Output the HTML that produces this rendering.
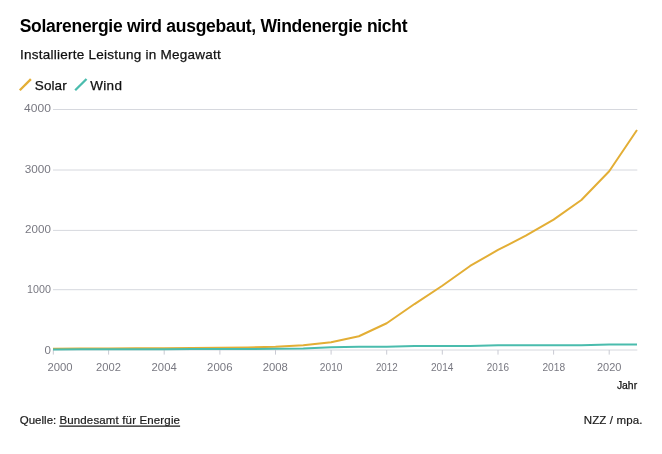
<!DOCTYPE html>
<html lang="de">
<head>
<meta charset="utf-8">
<title>Solarenergie wird ausgebaut, Windenergie nicht</title>
<style>
html,body{margin:0;padding:0;background:#fff;}
body{width:662px;height:454px;overflow:hidden;font-family:"Liberation Sans",sans-serif;}
svg{display:block;}
text{font-family:"Liberation Sans",sans-serif;}
.title{font-size:17.5px;font-weight:bold;fill:#000;letter-spacing:-0.28px;}
.sub{font-size:13.5px;fill:#111;letter-spacing:0.25px;stroke:#111;stroke-width:0.25px;}
.leg{font-size:13.5px;fill:#111;stroke:#111;stroke-width:0.25px;}
.ax{font-size:11.5px;fill:#787881;}
.axx{font-size:10.8px;fill:#787881;}
.jahr{font-size:11px;fill:#111;stroke:#111;stroke-width:0.25px;}
.foot{font-size:11.5px;fill:#1a1a1a;stroke:#1a1a1a;stroke-width:0.2px;}
</style>
</head>
<body>
<svg width="662" height="454" viewBox="0 0 662 454">
<rect width="662" height="454" fill="#fff"/>
<text class="title" x="19.7" y="32">Solarenergie wird ausgebaut, Windenergie nicht</text>
<text class="sub" x="20" y="59">Installierte Leistung in Megawatt</text>
<line x1="19.8" y1="90.3" x2="30.9" y2="79.1" stroke="#e3ae35" stroke-width="2.3"/>
<text class="leg" x="34.8" y="90" textLength="31.9">Solar</text>
<line x1="75.2" y1="90.3" x2="86.5" y2="79.0" stroke="#4abcad" stroke-width="2.3"/>
<text class="leg" x="90.3" y="90" textLength="31.6">Wind</text>
<g stroke="#d6d8de" stroke-width="1" fill="none">
<line x1="53" y1="109.5" x2="637.3" y2="109.5"/>
<line x1="53" y1="170" x2="637.3" y2="170"/>
<line x1="53" y1="230.4" x2="637.3" y2="230.4"/>
<line x1="53" y1="289.7" x2="637.3" y2="289.7"/>
<line x1="53" y1="350" x2="637.3" y2="350"/>
</g>
<g stroke="#c9cad3" stroke-width="1" fill="none">
<line x1="53.3" y1="350" x2="53.3" y2="354.6"/>
<line x1="108.6" y1="350" x2="108.6" y2="354.6"/>
<line x1="164.2" y1="350" x2="164.2" y2="354.6"/>
<line x1="219.9" y1="350" x2="219.9" y2="354.6"/>
<line x1="275.5" y1="350" x2="275.5" y2="354.6"/>
<line x1="331.1" y1="350" x2="331.1" y2="354.6"/>
<line x1="386.7" y1="350" x2="386.7" y2="354.6"/>
<line x1="442.3" y1="350" x2="442.3" y2="354.6"/>
<line x1="498.0" y1="350" x2="498.0" y2="354.6"/>
<line x1="553.6" y1="350" x2="553.6" y2="354.6"/>
<line x1="609.2" y1="350" x2="609.2" y2="354.6"/>
</g>
<g class="ax">
<text x="24.1" y="112" textLength="26.8" lengthAdjust="spacingAndGlyphs">4000</text>
<text x="24.8" y="173" textLength="26.1" lengthAdjust="spacingAndGlyphs">3000</text>
<text x="25.1" y="233" textLength="25.8" lengthAdjust="spacingAndGlyphs">2000</text>
<text x="27.1" y="293" textLength="23.8" lengthAdjust="spacingAndGlyphs">1000</text>
<text x="50.9" y="354" text-anchor="end">0</text>
</g>
<g class="axx">
<text x="47.5" y="371" textLength="25.1" lengthAdjust="spacingAndGlyphs">2000</text>
<text x="96.1" y="371" textLength="24.8" lengthAdjust="spacingAndGlyphs">2002</text>
<text x="151.6" y="371" textLength="25.1" lengthAdjust="spacingAndGlyphs">2004</text>
<text x="207.1" y="371" textLength="25.4" lengthAdjust="spacingAndGlyphs">2006</text>
<text x="262.8" y="371" textLength="25.1" lengthAdjust="spacingAndGlyphs">2008</text>
<text x="319.8" y="371" textLength="22.7" lengthAdjust="spacingAndGlyphs">2010</text>
<text x="375.9" y="371" textLength="21.8" lengthAdjust="spacingAndGlyphs">2012</text>
<text x="430.9" y="371" textLength="22.5" lengthAdjust="spacingAndGlyphs">2014</text>
<text x="486.8" y="371" textLength="22.2" lengthAdjust="spacingAndGlyphs">2016</text>
<text x="542.4" y="371" textLength="22.7" lengthAdjust="spacingAndGlyphs">2018</text>
<text x="596.9" y="371" textLength="24.5" lengthAdjust="spacingAndGlyphs">2020</text>
</g>
<polyline transform="translate(0,-0.35)" fill="none" stroke="#e3ae35" stroke-width="2" stroke-linejoin="round" points="53.0,349.1 80.8,348.9 108.6,348.8 136.4,348.7 164.2,348.6 192.0,348.4 219.9,348.2 247.7,347.8 275.5,347.1 303.3,345.6 331.1,342.5 358.9,336.6 386.7,323.6 414.5,304.4 442.3,286.1 470.1,266.3 498.0,250.3 525.8,236.0 553.6,220.0 581.4,200.3 609.2,171.6 637.0,130.4"/>
<polyline transform="translate(0,-0.35)" fill="none" stroke="#4abcad" stroke-width="2" stroke-linejoin="round" points="53.0,349.8 80.8,349.7 108.6,349.7 136.4,349.7 164.2,349.5 192.0,349.3 219.9,349.3 247.7,349.3 275.5,349.2 303.3,348.9 331.1,347.5 358.9,347.2 386.7,347.0 414.5,346.4 442.3,346.4 470.1,346.4 498.0,345.5 525.8,345.5 553.6,345.5 581.4,345.5 609.2,344.8 637.0,344.8"/>
<text class="jahr" x="616.9" y="389" textLength="20.2" lengthAdjust="spacingAndGlyphs">Jahr</text>
<text class="foot" x="19.7" y="424" textLength="36.6">Quelle:</text>
<text class="foot" x="59.4" y="424" textLength="120.6">Bundesamt für Energie</text>
<line x1="59.3" y1="426.2" x2="180.1" y2="426.2" stroke="#1a1a1a" stroke-width="1.3"/>
<text class="foot" x="583.8" y="424" textLength="58.6">NZZ / mpa.</text>
</svg>
</body>
</html>
